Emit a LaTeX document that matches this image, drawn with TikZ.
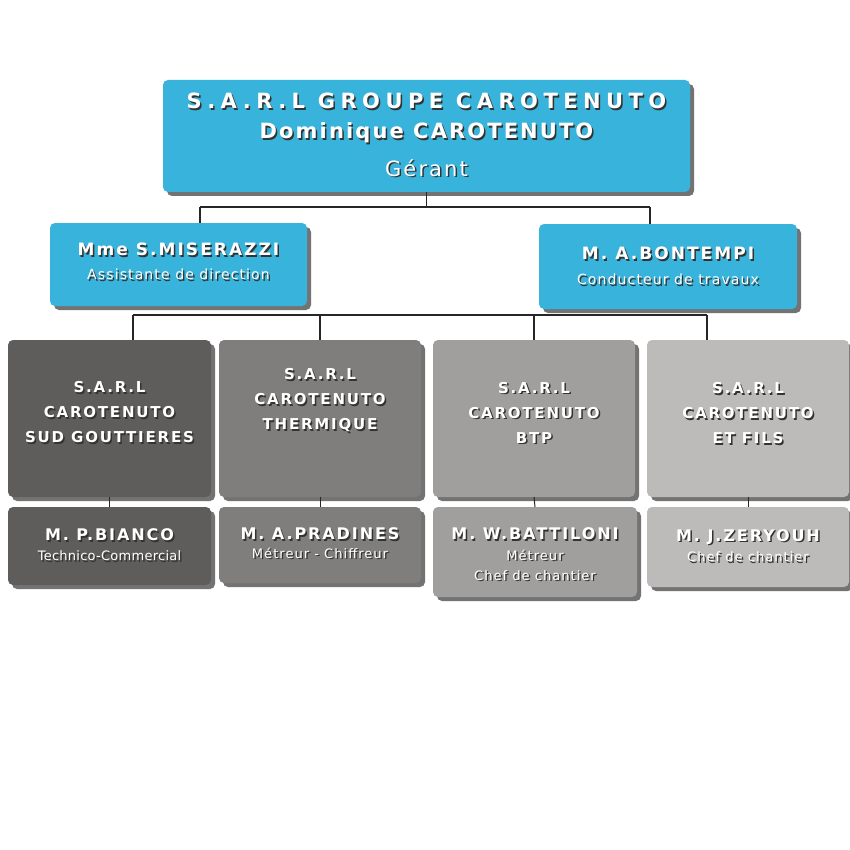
\documentclass[tikz,border=0pt]{standalone}
\usepackage{fontspec}
\setmainfont{DejaVu Sans}
\newfontfamily\bfam[LetterSpace=12]{DejaVu Sans Bold}
\newfontfamily\rfam[LetterSpace=8]{DejaVu Sans}
\usetikzlibrary{calc}
\definecolor{topc}{HTML}{38B3DB}
\definecolor{ca}{HTML}{5F5D5C}
\definecolor{cb}{HTML}{807E7D}
\definecolor{cc}{HTML}{A19F9E}
\definecolor{cd}{HTML}{BDBBBA}
\tikzset{
 box/.style={rounded corners=5pt},
 shad/.style={fill=black!55,rounded corners=5pt},
 wt/.style={text=white,align=center,inner sep=0pt},
 bt/.style={text=black!80,align=center,inner sep=0pt},
 link/.style={draw=black!85,line width=1.6pt}
}
\newcommand\rbox[6]{% name, x1,y1,x2,y2,color
 \fill[shad] (#2+4,#3+4) rectangle (#4+4,#5+4);
 \fill[box,#6] (#2,#3) rectangle (#4,#5);
 \coordinate (#1) at ({(#2+#4)/2},{(#3+#5)/2});
 \coordinate (#1-n) at ({(#2+#4)/2},#3);
 \coordinate (#1-s) at ({(#2+#4)/2},#5);}
\newcommand\stext[4]{% name, pos, font, text
 \node[bt,font=#3] at ($(#2)+(1.5,1.5)$) {#4};
 \node[wt,font=#3] (#1) at (#2) {#4};}
\begin{document}
\begin{tikzpicture}[x=1pt,y=-1pt]
\useasboundingbox[fill=white] (0,0) rectangle (850,850);
\coordinate (j1) at (433,207);
\coordinate (j1l) at (200,207);
\coordinate (j1r) at (650,207);
\coordinate (j2l) at (133,315);
\coordinate (j2r) at (707,315);
\rbox{top}{163}{80}{690}{192}{topc}
\draw[link] (top-s) -- (top-s |- j1);
\draw[link] (j1l) -- (j1r);
\rbox{ma}{50}{223}{307}{306}{topc}
\rbox{mb}{539}{224}{797}{309}{topc}
\draw[link] (j1l) -- (j1l |- ma-n);
\draw[link] (j1r) -- (j1r |- mb-n);
\rbox{r1}{8}{340}{211}{497}{ca}
\rbox{r2}{219}{340}{421}{497}{cb}
\rbox{r3}{433}{340}{635}{497}{cc}
\rbox{r4}{647}{340}{849}{497}{cd}
\draw[link] (j2l) -- (j2r);
\draw[link] (j2l) -- (j2l |- r1-n);
\draw[link] (r2-n) -- (r2-n |- j2l);
\draw[link] (r3-n) -- (r3-n |- j2l);
\draw[link] (j2r) -- (j2r |- r4-n);
\rbox{b1}{8}{507}{211}{585}{ca}
\rbox{b2}{219}{507}{421}{583}{cb}
\rbox{b3}{433}{507}{637}{597}{cc}
\rbox{b4}{647}{507}{849}{587}{cd}
\foreach \i in {1,2,3,4}{\draw[link,line width=1pt] (r\i-s) -- (b\i-n);}
\stext{t1}{$(top)+(0,-35)$}{\fontsize{21}{24}\bfam\addfontfeature{LetterSpace=26}}{S.A.R.L GROUPE CAROTENUTO}
\stext{t2}{$(top)+(0,-3)$}{\fontsize{21}{24}\bfam\addfontfeature{LetterSpace=10}}{Dominique CAROTENUTO}
\stext{t3}{$(top)+(0,32)$}{\fontsize{21}{24}\rfam\addfontfeature{LetterSpace=10}}{Gérant}
\stext{ta1}{$(ma)+(0,-15)$}{\fontsize{17}{20}\bfam}{Mme S.MISERAZZI}
\stext{ta2}{$(ma)+(0,10)$}{\fontsize{14}{17}\rfam}{Assistante de direction}
\stext{tb1}{$(mb)+(0,-13)$}{\fontsize{17}{20}\bfam}{M. A.BONTEMPI}
\stext{tb2}{$(mb)+(0,13)$}{\fontsize{14}{17}\rfam}{Conducteur de travaux}
\stext{tr1}{$(r1)+(0,-6)$}{\fontsize{15}{25}\bfam}{S.A.R.L\\CAROTENUTO\\SUD GOUTTIERES}
\stext{tr2}{$(r2)+(0,-18)$}{\fontsize{15}{25}\bfam}{S.A.R.L\\CAROTENUTO\\THERMIQUE}
\stext{tr3}{$(r3)+(0,-6)$}{\fontsize{15}{25}\bfam}{S.A.R.L\\CAROTENUTO\\BTP}
\stext{tr4}{$(r4)+(0,-5)$}{\fontsize{15}{25}\bfam}{S.A.R.L\\CAROTENUTO\\ET FILS}
\stext{u1}{$(b1)+(0,-11)$}{\fontsize{16}{19}\bfam}{M. P.BIANCO}
\stext{u1b}{$(b1)+(0,10)$}{\fontsize{13}{16}\rfam\addfontfeature{LetterSpace=2}}{Technico-Commercial}
\stext{u2}{$(b2)+(0,-11)$}{\fontsize{16}{19}\bfam}{M. A.PRADINES}
\stext{u2b}{$(b2)+(0,8)$}{\fontsize{13}{16}\rfam}{Métreur - Chiffreur}
\stext{u3}{$(b3)+(0,-18)$}{\fontsize{16}{19}\bfam}{M. W.BATTILONI}
\stext{u3b}{$(b3)+(0,13)$}{\fontsize{13}{20}\rfam}{Métreur\\Chef de chantier}
\stext{u4}{$(b4)+(0,-10)$}{\fontsize{16}{19}\bfam}{M. J.ZERYOUH}
\stext{u4b}{$(b4)+(0,10)$}{\fontsize{13}{16}\rfam}{Chef de chantier}
\end{tikzpicture}
\end{document}
